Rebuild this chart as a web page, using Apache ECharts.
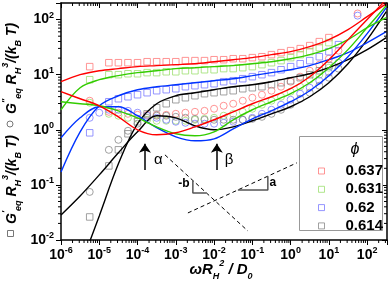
<!DOCTYPE html>
<html><head><meta charset="utf-8">
<script src="https://cdn.jsdelivr.net/npm/echarts@6/dist/echarts.min.js"></script>
<style>html,body{margin:0;padding:0;background:#fff}#c{width:390px;height:286px}</style>
</head><body><div id="c"></div>
<script>
// ---------- data ----------
const phiLabels = ['0.637', '0.631', '0.62', '0.614'];
const lineColors = ['#ff0000', '#33cc00', '#0033ff', '#000000'];
const markColors = ['#ff7a7a', '#9ee070', '#7a7aff', '#8a8a8a'];

// fit curves (omega R_H^2 / D0)
const fitOmega = [1e-6, 3.16e-6, 1e-5, 3.16e-5, 1e-4, 3.16e-4, 1e-3, 3.16e-3, 1e-2, 3.16e-2, 0.1, 0.316, 1, 3.16, 10, 31.6, 100, 316];
const fitGp637 = [7.46, 10, 11.8, 12.9, 14, 14.6, 15.2, 15.8, 17.2, 18.7, 20.4, 23.1, 26.2, 32.3, 43.3, 65.8, 113, 195];
const fitGpp637 = [4.91, 3.66, 2.73, 1.72, 1.0, 0.811, 0.882, 1.13, 1.52, 2.12, 2.97, 3.98, 5.56, 9.2, 18.7, 43.3, 100, 231];
const fitGp631 = [2.31, 5.8, 8.11, 9.6, 10.9, 11.8, 12.9, 13.4, 14, 14.6, 15.8, 17.2, 19.5, 23.1, 29.7, 43.3, 71.6, 109];
const fitGpp631 = [3.23, 2.97, 2.73, 2.21, 1.65, 1.13, 0.846, 0.778, 0.920, 1.52, 2.31, 3.23, 4.52, 7.15, 13.4, 28.5, 71.6, 180];
const fitGp620 = [0.172, 0.920, 2.73, 4.15, 5.34, 6.05, 6.58, 7.15, 7.78, 8.46, 9.6, 10.9, 12.3, 14.6, 18.7, 25.1, 38.2, 60.5];
const fitGpp620 = [0.715, 1.65, 2.62, 2.62, 1.80, 1.09, 0.746, 0.631, 0.686, 1.04, 1.58, 2.21, 3.23, 5.12, 9.6, 21.2, 55.6, 165];
const fitGp614 = [null, 0.00323, 0.0273, 0.241, 1.29, 2.97, 4.15, 4.71, 5.34, 6.05, 6.58, 7.46, 8.82, 10.4, 13.4, 18.7, 28.5, 47.1];
const fitGpp614 = [0.0285, 0.063, 0.152, 0.382, 0.920, 1.80, 1.65, 1.18, 1.0, 1.13, 1.46, 1.95, 2.62, 3.98, 7.15, 15.8, 43.3, 140];

// measured points
const dataOmega = [5.62e-6, 1e-5, 1.78e-5, 3.16e-5, 5.62e-5, 1e-4, 1.78e-4, 3.16e-4, 5.62e-4, 1e-3, 1.78e-3, 3.16e-3, 5.62e-3, 0.01, 0.0178, 0.0316, 0.0562, 0.1, 0.178, 0.316, 0.562, 1, 1.78, 3.16, 5.62, 10, 17.8, 31.6, 56.2, 100];
const gp637 = [14, null, 16.5, 16.5, 16.5, 16.5, 17.2, 17.2, 17.2, 17.2, 18, 18, 18, 18.7, 18.7, 19.5, 19.5, 20.4, 21.2, 23.1, 25.1, 27.3, 29.7, 33.7, 39.8, 47.1, null, null, null, null];
const gp631 = [8.11, null, 10, 10, 10.4, 10.4, 10.9, 10.9, 11.3, 11.3, 11.8, 11.8, 12.3, 12.3, 12.9, 12.9, 13.4, 14, 15.2, 16.5, 18, 20.4, 23.1, 26.2, 31, 38.2, null, null, null, null];
const gp620 = [0.882, null, 3.23, 3.66, 3.98, 4.33, 4.71, 5.12, 5.34, 5.56, 6.05, 6.31, 6.58, 6.86, 7.46, 7.78, 8.46, 9.2, 10, 10.9, 12.3, 14, 15.8, 18, 21.2, 26.2, 35.1, null, null, null];
const gp614 = [0.0262, null, 0.221, 0.433, 0.846, 1.40, 1.95, 2.51, 2.97, 3.51, 3.82, 4.15, 4.52, 4.71, 4.91, 5.12, 5.56, 5.8, 6.05, 6.58, 7.15, 7.78, 8.82, 10, 11.8, 14.6, null, null, null, null];
const gpp637 = [3.37, null, 2.12, 2.04, 1.95, 1.87, 1.87, 1.87, 1.87, 1.95, 2.04, 2.12, 2.21, 2.41, 2.73, 2.97, 3.37, 3.82, 4.33, 5.12, 6.05, 7.46, 9.2, 11.8, 15.2, 19.5, 27.3, null, 129, null];
const gpp631 = [3.1, null, 1.95, 1.80, 1.65, 1.58, 1.52, 1.46, 1.46, 1.46, 1.46, 1.52, 1.58, 1.65, 1.80, 1.95, 2.12, 2.41, 2.85, 3.37, 3.98, 4.91, 6.05, 8.11, 10, 13.4, null, null, null, null];
const gpp620 = [1.65, 2.04, 2.31, 2.31, 2.21, 2.04, 1.80, 1.65, 1.52, 1.40, 1.34, 1.29, 1.29, 1.29, 1.34, 1.40, 1.52, 1.65, 1.95, 2.31, 2.85, 3.51, 4.52, 5.8, 7.78, 10.9, 16.5, null, 118, null];
const gpp614 = [0.0746, null, 0.433, 0.658, 0.959, 1.29, 1.65, 1.80, 1.80, 1.72, 1.65, 1.58, 1.52, 1.52, 1.52, 1.52, 1.52, 1.58, 1.72, 1.95, 2.31, 2.85, 3.66, 4.71, 6.31, 8.82, 12.9, null, null, null];

// annotations (data coordinates)
const slopeLineB = [[5.2e-4, 0.351], [0.0762, 0.0146]];
const slopeLineA = [[2.07e-3, 0.031], [1.45, 0.251]];
const triangleB = [[2.79e-3, 0.12], [2.79e-3, 0.0716], [6.3e-3, 0.0716]];
const triangleA = [[0.0419, 0.081], [0.254, 0.081], [0.254, 0.144]];
const arrowOmega = [1.56e-4, 0.0118];
const arrowFrom = 0.187, arrowTo = 0.56;
const annotLabels = [['α', 3.5e-4, 0.285], ['β', 0.0245, 0.29], ['-b', 1.63e-3, 0.104], ['a', 0.343, 0.109]];

const X_MIN = 1e-6, X_MAX = 330, Y_MIN = 0.01, Y_MAX = 200;

// ---------- chart ----------
const FONT = 'Arial, "Liberation Sans", Helvetica, sans-serif';
const chart = echarts.init(document.getElementById('c'));

const pairs = (xs, ys) => xs.map((x, i) => ys[i] == null ? null : [x, ys[i]]).filter(p => p);
const gpAll = [gp637, gp631, gp620, gp614];
const gppAll = [gpp637, gpp631, gpp620, gpp614];
const fitGpAll = [fitGp637, fitGp631, fitGp620, fitGp614];
const fitGppAll = [fitGpp637, fitGpp631, fitGpp620, fitGpp614];

function powLabel(v) {
  const e = Math.log10(v), r = Math.round(e);
  if (Math.abs(e - r) > 1e-4) return '';
  return '{b|10}{s|' + r + '}';
}
const tickRich = {
  b: { fontSize: 14, fontWeight: 'bold', fontFamily: FONT, color: '#000', lineHeight: 18 },
  s: { fontSize: 9, fontWeight: 'bold', fontFamily: FONT, color: '#000', verticalAlign: 'top', lineHeight: 10 }
};

const xMinor = [];
for (let e = -6; e <= 2; e++) for (let k = 2; k <= 9; k++) { const v = k * Math.pow(10, e); if (v < X_MAX) xMinor.push(v); }
const yMinor = [];
for (let e = -2; e <= 2; e++) for (let k = 2; k <= 9; k++) { const v = k * Math.pow(10, e); if (v < Y_MAX) yMinor.push(v); }

const series = [];
for (let i = 0; i < 4; i++) {
  series.push({
    name: phiLabels[i], type: 'scatter', data: pairs(dataOmega, gpAll[i]), symbol: 'rect', symbolSize: 6.5,
    itemStyle: { color: 'rgba(0,0,0,0)', borderColor: markColors[i], borderWidth: 1 }, z: 2, silent: true
  });
  series.push({
    name: 'c' + phiLabels[i], type: 'scatter', data: pairs(dataOmega, gppAll[i]), symbol: 'circle', symbolSize: 7,
    itemStyle: { color: 'rgba(0,0,0,0)', borderColor: markColors[i], borderWidth: 1 }, z: 2, silent: true
  });
}
for (let i = 3; i >= 0; i--) {
  [fitGpAll[i], fitGppAll[i]].forEach(arr => series.push({
    type: 'line', data: pairs(fitOmega, arr), showSymbol: false, symbol: 'none',
    smooth: 0.35, lineStyle: { color: lineColors[i], width: 1.4 }, z: 3, silent: true
  }));
}
// dashed slope lines with arrows and labels
series.push({
  type: 'line', data: slopeLineB, symbol: 'none', silent: true, z: 3,
  lineStyle: { color: '#000', width: 1, type: [4, 3] },
  markLine: {
    silent: true, symbol: ['none', 'arrow'], symbolSize: 9, animation: false,
    lineStyle: { color: '#000', width: 1.5, type: 'solid' }, label: { show: false },
    data: arrowOmega.map(x => [{ coord: [x, arrowFrom] }, { coord: [x, arrowTo] }])
  },
  markPoint: {
    silent: true, symbol: 'rect', symbolSize: 1, itemStyle: { color: 'rgba(0,0,0,0)' },
    data: annotLabels.map(a => ({
      coord: [a[1], a[2]],
      label: {
        show: true, position: 'inside', formatter: a[0], color: '#000', fontFamily: FONT,
        fontSize: (a[0] === 'α' || a[0] === 'β') ? 15 : 12, fontWeight: (a[0] === 'α' || a[0] === 'β') ? 'normal' : 'bold'
      }
    }))
  }
});
series.push({ type: 'line', data: slopeLineA, symbol: 'none', silent: true, z: 3, lineStyle: { color: '#000', width: 1, type: [4, 3] } });
series.push({ type: 'line', data: triangleB, symbol: 'none', silent: true, z: 3, lineStyle: { color: '#555', width: 1.5 } });
series.push({ type: 'line', data: triangleA, symbol: 'none', silent: true, z: 3, lineStyle: { color: '#555', width: 1.5 } });
// minor ticks
series.push({
  type: 'custom', silent: true, z: 6, data: xMinor.map(v => [v, Y_MIN]),
  renderItem: (params, api) => {
    const v = api.value(0), b = api.coord([v, Y_MIN]), t = api.coord([v, Y_MAX]);
    return { type: 'group', children: [
      { type: 'line', shape: { x1: b[0], y1: b[1], x2: b[0], y2: b[1] + 3 }, style: { stroke: '#000', lineWidth: 1 } },
      { type: 'line', shape: { x1: t[0], y1: t[1], x2: t[0], y2: t[1] + 3 }, style: { stroke: '#000', lineWidth: 1 } }
    ] };
  }
});
series.push({
  type: 'custom', silent: true, z: 6, data: yMinor.map(v => [X_MIN, v]),
  renderItem: (params, api) => {
    const v = api.value(1), l = api.coord([X_MIN, v]), r = api.coord([X_MAX, v]);
    return { type: 'group', children: [
      { type: 'line', shape: { x1: l[0], y1: l[1], x2: l[0] - 3, y2: l[1] }, style: { stroke: '#000', lineWidth: 1 } },
      { type: 'line', shape: { x1: r[0], y1: r[1], x2: r[0] - 3, y2: r[1] }, style: { stroke: '#000', lineWidth: 1 } }
    ] };
  }
});

const axisLine = { show: true, onZero: false, lineStyle: { color: '#000', width: 1.5 } };
const labRich = {
  i: { fontSize: 14, fontWeight: 'bold', fontStyle: 'italic', fontFamily: FONT, fill: '#000', color: '#000', lineHeight: 22 },
  sp: { fontSize: 9, fontWeight: 'bold', fontStyle: 'italic', fontFamily: FONT, fill: '#000', color: '#000', verticalAlign: 'top', lineHeight: 11 },
  sb: { fontSize: 9, fontWeight: 'bold', fontStyle: 'italic', fontFamily: FONT, fill: '#000', color: '#000', verticalAlign: 'bottom', lineHeight: 11 }
};

chart.setOption({
  animation: false,
  backgroundColor: '#fff',
  grid: { left: 61, right: 3, top: 3, bottom: 46, containLabel: false },
  xAxis: [
    { type: 'log', min: X_MIN, max: X_MAX, position: 'bottom', axisLine, splitLine: { show: false },
      axisTick: { show: true, inside: false, length: 5, lineStyle: { color: '#000', width: 1 } },
      axisLabel: { margin: 6, formatter: powLabel, rich: tickRich, fontFamily: FONT } },
    { type: 'log', min: X_MIN, max: X_MAX, position: 'top', axisLine, splitLine: { show: false },
      axisTick: { show: true, inside: true, length: 5, lineStyle: { color: '#000', width: 1 } },
      axisLabel: { show: false } }
  ],
  yAxis: [
    { type: 'log', min: Y_MIN, max: Y_MAX, position: 'left', axisLine, splitLine: { show: false },
      axisTick: { show: true, inside: false, length: 5, lineStyle: { color: '#000', width: 1 } },
      axisLabel: { margin: 7, formatter: powLabel, rich: tickRich, fontFamily: FONT } },
    { type: 'log', min: Y_MIN, max: Y_MAX, position: 'right', axisLine, splitLine: { show: false },
      axisTick: { show: true, inside: true, length: 5, lineStyle: { color: '#000', width: 1 } },
      axisLabel: { show: false } }
  ],
  legend: {
    orient: 'vertical', left: 313, top: 158, itemWidth: 6, itemHeight: 6, itemGap: 2.3, z: 8,
    selectedMode: false, icon: 'rect',
    textStyle: { fontSize: 15, fontWeight: 'bold', fontFamily: FONT, color: '#000', lineHeight: 16, padding: [0, 0, 0, 16] },
    data: phiLabels.map((n, i) => ({ name: n, icon: 'rect', itemStyle: { color: 'rgba(0,0,0,0)', borderColor: markColors[i], borderWidth: 1 } }))
  },
  graphic: [
    { type: 'rect', z: 7, shape: { x: 299.5, y: 136.5, width: 83, height: 94 }, style: { fill: '#fff', stroke: '#999', lineWidth: 1 } },
    { type: 'text', z: 8, x: 355, y: 150, style: { text: 'ϕ', font: 'italic 16px ' + FONT, fill: '#000', align: 'center', verticalAlign: 'middle' } },
    { type: 'text', z: 8, x: 221, y: 270, style: {
        text: '{i|ωR}{sb|H}{sp|2}{i| / D}{sb|0}', rich: Object.assign({}, labRich, { i: Object.assign({}, labRich.i, { fontSize: 15 }) }),
        align: 'center', verticalAlign: 'middle' } },
    { type: 'text', z: 8, x: 12, y: 114, rotation: Math.PI / 2, style: {
        text: "{i|G}{sp|''}{sb|eq}{i| R}{sb|H}{sp|3}{i|/(k}{sb|B}{i| T)}", rich: labRich,
        align: 'left', verticalAlign: 'middle' } },
    { type: 'text', z: 8, x: 12, y: 224, rotation: Math.PI / 2, style: {
        text: "{i|G}{sp|'}{sb|eq}{i| R}{sb|H}{sp|3}{i|/(k}{sb|B}{i| T)}", rich: labRich,
        align: 'left', verticalAlign: 'middle' } },
    { type: 'circle', z: 8, shape: { cx: 10, cy: 124, r: 3 }, style: { fill: 'none', stroke: '#777', lineWidth: 1 } },
    { type: 'rect', z: 8, shape: { x: 7.5, y: 230.5, width: 6, height: 6 }, style: { fill: 'none', stroke: '#777', lineWidth: 1 } }
  ],
  series
});
</script></body></html>
